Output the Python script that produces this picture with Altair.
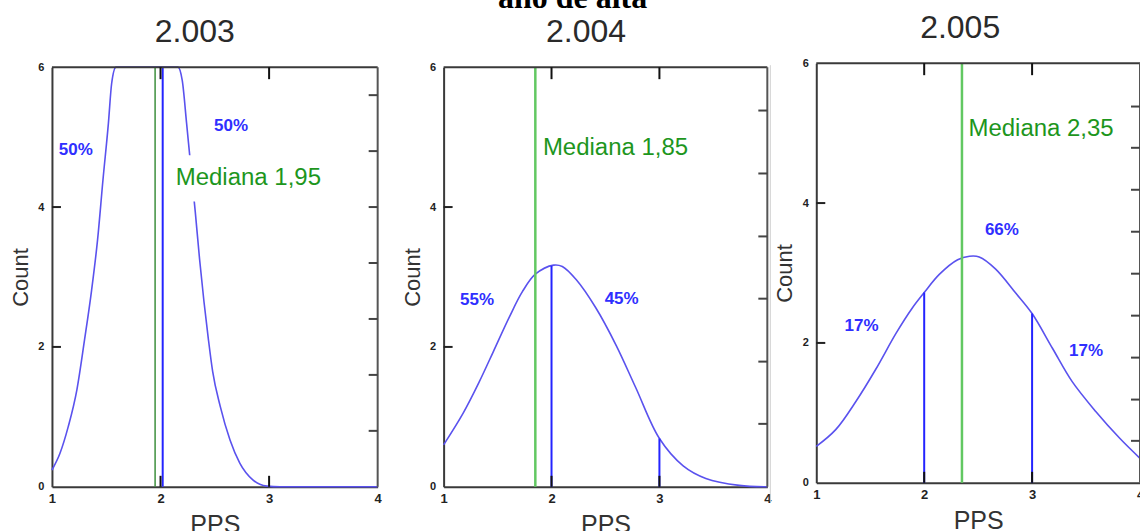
import altair as alt
import pandas as pd

# ---------------- data ----------------
# Smoothed PPS distributions (Count against PPS), one per admission year
pps_2003 = [1.0, 1.074, 1.15, 1.23, 1.30, 1.365, 1.42, 1.47, 1.52, 1.55, 1.59,
            2.16, 2.20, 2.24, 2.27, 2.32, 2.36, 2.40, 2.44, 2.48, 2.55, 2.64,
            2.73, 2.85, 2.98, 3.1, 4.0]
count_2003 = [0.24, 0.48, 0.86, 1.39, 2.1, 2.81, 3.53, 4.39, 5.2, 5.77, 6.0,
              6.0, 5.81, 5.2, 4.72, 3.93, 3.25, 2.65, 2.12, 1.65, 1.15, 0.67,
              0.34, 0.1, 0.01, 0.0, 0.0]

pps_2004 = [1.0, 1.18, 1.33, 1.46, 1.61, 1.73, 1.85, 2.02, 2.1, 2.23, 2.41,
            2.6, 2.78, 3.0, 3.22, 3.43, 3.74, 4.0]
count_2004 = [0.6, 1.05, 1.5, 1.93, 2.43, 2.79, 3.04, 3.17, 3.15, 2.96, 2.56,
              2.02, 1.42, 0.69, 0.3, 0.12, 0.02, 0.0]

pps_2005 = [1.0, 1.18, 1.37, 1.55, 1.74, 1.89, 2.0, 2.14, 2.31, 2.42, 2.51,
            2.66, 2.85, 3.0, 3.19, 3.37, 3.59, 3.81, 4.0]
count_2005 = [0.52, 0.76, 1.17, 1.62, 2.14, 2.5, 2.72, 2.98, 3.19, 3.24, 3.23,
              3.06, 2.71, 2.42, 1.92, 1.45, 1.02, 0.64, 0.35]

# cut points drawn as blue verticals (PPS, height reached on the curve)
cut_x_2003 = [2.02]
cut_top_2003 = [6.0]
cut_x_2004 = [2.0, 3.0]
cut_top_2004 = [3.16, 0.69]
cut_x_2005 = [2.0, 3.0]
cut_top_2005 = [2.72, 2.42]

# medians
median_2003 = 1.95
median_2004 = 1.85
median_2005 = 2.35
median_text_2003 = "Mediana 1,95"
median_text_2004 = "Mediana 1,85"
median_text_2005 = "Mediana 2,35"
median_text_pos_2003 = (2.14, 4.42)
median_text_pos_2004 = (1.92, 4.84)
median_text_pos_2005 = (2.41, 5.06)

# share of cases in each region
pct_text_2003 = ["50%", "50%"]
pct_x_2003 = [1.22, 2.65]
pct_y_2003 = [4.81, 5.16]
pct_text_2004 = ["55%", "45%"]
pct_x_2004 = [1.31, 2.65]
pct_y_2004 = [2.67, 2.69]
pct_text_2005 = ["17%", "66%", "17%"]
pct_x_2005 = [1.42, 2.72, 3.5]
pct_y_2005 = [2.24, 3.61, 1.88]

# blank area behind the 2003 median label
mask_2003 = (2.13, 3.52, 4.08, 4.74)

# axis tick values
x_tick_labels = [1, 2, 3, 4]
y_tick_labels = [0, 2, 4, 6]
inner_x_ticks = [2, 3]
inner_y_ticks = [2, 4]
right_ticks_2003 = [0.8, 1.6, 2.4, 3.2, 4.0, 4.8, 5.6]
right_ticks_2004 = [0.9, 1.79, 2.69, 3.58, 4.48, 5.38]
right_ticks_2005 = [0.6, 1.19, 1.79, 2.39, 2.99, 3.59, 4.19, 4.79, 5.38]

years = ["2.003", "2.004", "2.005"]

# ---------------- style ----------------
CURVE = "#5a52ee"
CUT = "#2424ff"
PCT = "#2f2fff"
MED_TEXT = "#1d961d"
FRAME = "#3a3a3a"
SANS = "Liberation Sans"


def panel(title, xs_vals, ys_vals, cut_x, cut_top, med, med_text, med_pos,
          pct_text, pct_x, pct_y, right_ticks, view_w, plot_w, plot_h,
          plot_top, green, green_w, title_dx, interp, mask=None,
          divider=False):
    xs = alt.Scale(domain=[1, 4], range=[0, plot_w], nice=False, zero=False)
    ys = alt.Scale(domain=[0, 6], range=[plot_h, plot_top], nice=False, zero=False)

    x_axis = alt.Axis(values=x_tick_labels, format="d", ticks=False, tickSize=0,
                      labelPadding=6, labelFlush=False, grid=False,
                      domainColor=FRAME, domainWidth=2,
                      labelFont=SANS, labelFontSize=13, labelFontWeight="bold",
                      labelColor="#222", titleFont=SANS, titleFontSize=25,
                      titleFontWeight="normal", titleColor="#333",
                      titlePadding=8, minExtent=18, maxExtent=18, title="PPS")
    y_axis = alt.Axis(values=y_tick_labels, format="d", ticks=False, tickSize=0,
                      labelPadding=8, grid=False,
                      domainColor=FRAME, domainWidth=2,
                      labelFont=SANS, labelFontSize=11, labelFontWeight="bold",
                      labelColor="#222", titleFont=SANS, titleFontSize=22,
                      titleFontWeight="normal", titleColor="#333",
                      titlePadding=5.5, minExtent=14, maxExtent=14,
                      title="Count")

    # every layer shares the same scales and axis definitions
    def X(field):
        return alt.X(f"{field}:Q", scale=xs, axis=x_axis, title="PPS")

    def Y(field):
        return alt.Y(f"{field}:Q", scale=ys, axis=y_axis, title="Count")

    curve_df = pd.DataFrame({"x": xs_vals, "y": ys_vals})
    layers = [
        alt.Chart(curve_df).mark_line(color=CURVE, strokeWidth=1.6,
                                      interpolate=interp).encode(
            x=X("x"), y=Y("y"))
    ]

    if mask is not None:
        mdf = pd.DataFrame({"x": [mask[0]], "x2": [mask[1]],
                            "y": [mask[2]], "y2": [mask[3]]})
        layers.append(
            alt.Chart(mdf).mark_rect(color="white").encode(
                x=X("x"), x2="x2:Q", y=Y("y"), y2="y2:Q")
        )

    cut_df = pd.DataFrame({"x": cut_x, "y": [0] * len(cut_x), "y2": cut_top})
    layers.append(
        alt.Chart(cut_df).mark_rule(color=CUT, strokeWidth=2).encode(
            x=X("x"), y=Y("y"), y2="y2:Q")
    )

    med_df = pd.DataFrame({"x": [med], "y": [0], "y2": [6]})
    layers.append(
        alt.Chart(med_df).mark_rule(color=green, strokeWidth=green_w).encode(
            x=X("x"), y=Y("y"), y2="y2:Q")
    )

    pct_df = pd.DataFrame({"x": pct_x, "y": pct_y, "t": pct_text})
    layers.append(
        alt.Chart(pct_df).mark_text(font=SANS, fontSize=17, fontWeight="bold",
                                    color=PCT, align="center",
                                    baseline="middle").encode(
            x=X("x"), y=Y("y"), text="t:N")
    )

    mt_df = pd.DataFrame({"x": [med_pos[0]], "y": [med_pos[1]], "t": [med_text]})
    layers.append(
        alt.Chart(mt_df).mark_text(font=SANS, fontSize=24, color=MED_TEXT,
                                   align="left", baseline="middle").encode(
            x=X("x"), y=Y("y"), text="t:N")
    )

    # box: top and right edges
    top_df = pd.DataFrame({"x": [1], "x2": [4], "y": [6]})
    layers.append(
        alt.Chart(top_df).mark_rule(color=FRAME, strokeWidth=2).encode(
            x=X("x"), x2="x2:Q", y=Y("y"))
    )
    right_df = pd.DataFrame({"x": [4], "y": [0], "y2": [6]})
    layers.append(
        alt.Chart(right_df).mark_rule(color="#555", strokeWidth=2).encode(
            x=X("x"), y=Y("y"), y2="y2:Q")
    )

    # inward ticks on all four sides
    xt = pd.DataFrame({"x": inner_x_ticks})
    layers.append(
        alt.Chart(xt).mark_rule(color="#111", strokeWidth=2).encode(
            x=X("x"), y=alt.value(plot_top), y2=alt.value(plot_top + 12))
    )
    layers.append(
        alt.Chart(xt).mark_rule(color="#111", strokeWidth=2).encode(
            x=X("x"), y=alt.value(plot_h - 11), y2=alt.value(plot_h))
    )
    yt = pd.DataFrame({"y": inner_y_ticks})
    layers.append(
        alt.Chart(yt).mark_rule(color="#222", strokeWidth=2).encode(
            y=Y("y"), x=alt.value(0), x2=alt.value(9))
    )
    rt = pd.DataFrame({"y": right_ticks})
    layers.append(
        alt.Chart(rt).mark_rule(color="#444", strokeWidth=2).encode(
            y=Y("y"), x=alt.value(plot_w - 9), x2=alt.value(plot_w))
    )

    if divider:
        layers.append(
            alt.Chart(pd.DataFrame({"k": [0]})).mark_rule(
                color="#cfcfcf", strokeWidth=1).encode(
                x=alt.value(plot_w + 3), y=alt.value(-2), y2=alt.value(plot_h + 15))
        )

    return alt.layer(*layers).properties(
        width=view_w, height=plot_h,
        title=alt.TitleParams(title, font=SANS, fontSize=32, fontWeight="normal",
                              color="#2a2a2a", anchor="middle",
                              baseline="alphabetic", offset=-13, dx=title_dx),
    )


p1 = panel(years[0], pps_2003, count_2003, cut_x_2003, cut_top_2003,
           median_2003, median_text_2003, median_text_pos_2003,
           pct_text_2003, pct_x_2003, pct_y_2003, right_ticks_2003,
           view_w=392, plot_w=326, plot_h=420, plot_top=0,
           green="#3d8f3d", green_w=1.5, title_dx=-53, interp="monotone",
           mask=mask_2003)
p2 = panel(years[1], pps_2004, count_2004, cut_x_2004, cut_top_2004,
           median_2004, median_text_2004, median_text_pos_2004,
           pct_text_2004, pct_x_2004, pct_y_2004, right_ticks_2004,
           view_w=373, plot_w=324, plot_h=420, plot_top=0,
           green="#62c862", green_w=2.5, title_dx=-44, interp="catmull-rom",
           divider=True)
p3 = panel(years[2], pps_2005, count_2005, cut_x_2005, cut_top_2005,
           median_2005, median_text_2005, median_text_pos_2005,
           pct_text_2005, pct_x_2005, pct_y_2005, right_ticks_2005,
           view_w=324, plot_w=324, plot_h=416, plot_top=-4,
           green="#62c862", green_w=2.5, title_dx=-18, interp="catmull-rom")

chart = alt.hconcat(p1, p2, p3, spacing=0, bounds="flush").properties(
    title=alt.TitleParams("año de alta", font="Liberation Serif", fontSize=32,
                          fontWeight="bold", color="black", anchor="middle",
                          baseline="alphabetic", offset=-28, dx=-4),
    padding={"left": 9, "top": -18, "right": -4, "bottom": -7},
    background="white",
).configure_view(stroke=None)

chart.save("out.html", embed_options={"renderer": "svg", "actions": False})
